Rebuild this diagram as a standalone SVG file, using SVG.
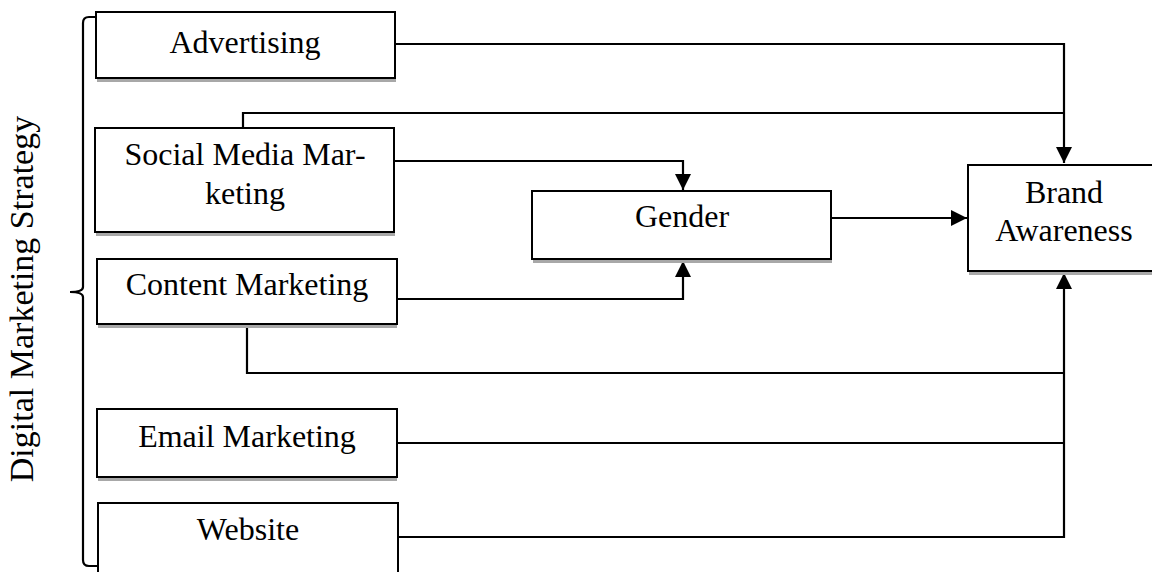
<svg xmlns="http://www.w3.org/2000/svg" width="1152" height="572" viewBox="0 0 1152 572">
<style>
.box{fill:#fff;stroke:#000;stroke-width:2}
.sh{fill:#a8a8a8}
.t{font-family:'Liberation Serif','Tinos','DejaVu Serif',serif;font-size:32px;fill:#000;text-anchor:middle}
.c{fill:none;stroke:#000;stroke-width:2.2}
</style>
<defs>
<marker id="ah" viewBox="0 0 16 16" markerWidth="16" markerHeight="16" refX="16" refY="8" orient="auto" markerUnits="userSpaceOnUse">
<path d="M0,0 L16,8 L0,16 Z" fill="#000"/>
</marker>
</defs>
<rect width="1152" height="572" fill="#fff"/>
<g id="brace">
<path class="c" d="M97,17 L89,17 Q83,17 83,23 L83,287 Q83,292 70,292 Q83,292 83,297 L83,560 Q83,566 89,566 L97,566"/>
<text class="t" font-family="Liberation Serif, serif" transform="translate(33,299) rotate(-90)" style="font-size:34px">Digital Marketing Strategy</text>
</g>
<g id="connectors">
<path class="c" d="M395,44 L1064,44 L1064,163" marker-end="url(#ah)"/>
<path class="c" d="M243,128 L243,113 L1064,113"/>
<path class="c" d="M394,161 L683,161 L683,190" marker-end="url(#ah)"/>
<path class="c" d="M831,218 L967,218" marker-end="url(#ah)"/>
<path class="c" d="M397,299 L683,299 L683,261" marker-end="url(#ah)"/>
<path class="c" d="M247,324 L247,373 L1064,373"/>
<path class="c" d="M397,443 L1064,443"/>
<path class="c" d="M398,537 L1064,537 L1064,273" marker-end="url(#ah)"/>
</g>
<g id="advertising">
<rect class="sh" x="97" y="78" width="299" height="4"/>
<rect class="box" x="96" y="12" width="299" height="66"/>
<text class="t" x="245" y="53">Advertising</text>
</g>
<g id="social">
<rect class="sh" x="96" y="232" width="299" height="4"/>
<rect class="box" x="95" y="128" width="299" height="104"/>
<text class="t" x="245" y="165">Social Media Mar-</text>
<text class="t" x="245" y="204">keting</text>
</g>
<g id="content">
<rect class="sh" x="98" y="324" width="299" height="4"/>
<rect class="box" x="97" y="259" width="300" height="65"/>
<text class="t" x="247" y="295">Content Marketing</text>
</g>
<g id="email">
<rect class="sh" x="98" y="477" width="299" height="4"/>
<rect class="box" x="97" y="409" width="300" height="68"/>
<text class="t" x="247" y="447">Email Marketing</text>
</g>
<g id="website">
<rect class="box" x="98" y="503" width="300" height="75"/>
<text class="t" x="248" y="540">Website</text>
</g>
<g id="gender">
<rect class="sh" x="533" y="259" width="299" height="4"/>
<rect class="box" x="532" y="191" width="299" height="68"/>
<text class="t" x="682" y="227">Gender</text>
</g>
<g id="brand">
<rect class="sh" x="969" y="271" width="200" height="4"/>
<rect class="box" x="968" y="165" width="200" height="106"/>
<text class="t" x="1064" y="203">Brand</text>
<text class="t" x="1064" y="241">Awareness</text>
</g>
</svg>
